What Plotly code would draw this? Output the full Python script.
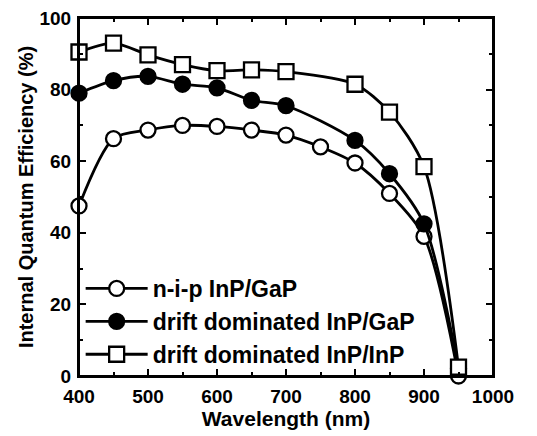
import plotly.graph_objects as go

wl_nip = [400, 450, 500, 550, 600, 650, 700, 750, 800, 850, 900, 950]
iqe_nip = [47.5, 66.3, 68.7, 70.0, 69.7, 68.7, 67.3, 64.0, 59.5, 51.0, 39.0, 0.0]

wl_drift_gap = [400, 450, 500, 550, 600, 650, 700, 800, 850, 900, 950]
iqe_drift_gap = [79.0, 82.5, 83.7, 81.5, 80.5, 77.0, 75.5, 65.8, 56.5, 42.5, 2.0]

wl_drift_inp = [400, 450, 500, 550, 600, 650, 700, 800, 850, 900, 950]
iqe_drift_inp = [90.5, 93.0, 89.7, 87.0, 85.3, 85.5, 85.0, 81.5, 73.7, 58.5, 2.5]

names = ["n-i-p InP/GaP", "drift dominated InP/GaP", "drift dominated InP/InP"]

FONT = "Liberation Sans, Arial, Helvetica, sans-serif"

fig = go.Figure()
series = [
    (wl_nip, iqe_nip, names[0], "circle", "white"),
    (wl_drift_gap, iqe_drift_gap, names[1], "circle", "black"),
    (wl_drift_inp, iqe_drift_inp, names[2], "square", "white"),
]
for x, y, n, sym, fill in series:
    fig.add_trace(go.Scatter(
        x=x, y=y, name=n, mode="lines+markers",
        line=dict(color="black", width=2.8, shape="spline", smoothing=0.8),
        marker=dict(symbol=sym, size=15, color=fill, line=dict(color="black", width=2.3)),
        cliponaxis=False,
    ))

axis_common = dict(
    showline=True, linecolor="black", linewidth=2, mirror="ticks",
    ticks="inside", ticklen=7, tickwidth=1.5, tickcolor="black",
    showgrid=False, zeroline=False, automargin=False,
    ticklabeloverflow="allow",
    tickfont=dict(family=FONT, size=19, color="black", weight="bold"),
    minor=dict(ticks="inside", ticklen=4, tickwidth=1.5, tickcolor="black"),
)

fig.update_xaxes(
    range=[400, 1000], dtick=100, tick0=400,
    title=dict(text="Wavelength (nm)", font=dict(family=FONT, size=21, color="black", weight="bold"), standoff=3),
    minor_dtick=50, ticklabelstandoff=2,
    **axis_common,
)
fig.update_yaxes(
    range=[0, 100], dtick=20, tick0=0,
    title=dict(text="Internal Quantum Efficiency (%)", font=dict(family=FONT, size=20, color="black", weight="bold"), standoff=0),
    minor_dtick=10, ticklabelstandoff=2,
    **axis_common,
)

fig.update_layout(
    width=529, height=428,
    margin=dict(l=71, r=44, t=10, b=60),
    plot_bgcolor="white", paper_bgcolor="white",
    font=dict(family=FONT, color="black"),
    legend=dict(
        x=0.004, y=0.0, xanchor="left", yanchor="bottom",
        bgcolor="rgba(0,0,0,0)",
        font=dict(family=FONT, size=23, color="black", weight="bold"),
        itemwidth=62, tracegroupgap=0,
    ),
    shapes=[dict(type="rect", xref="paper", yref="paper", x0=0, y0=0, x1=1, y1=1,
                 line=dict(color="black", width=2), fillcolor="rgba(0,0,0,0)", layer="above")],
)

fig.write_html("out.html", config={"displayModeBar": False})
